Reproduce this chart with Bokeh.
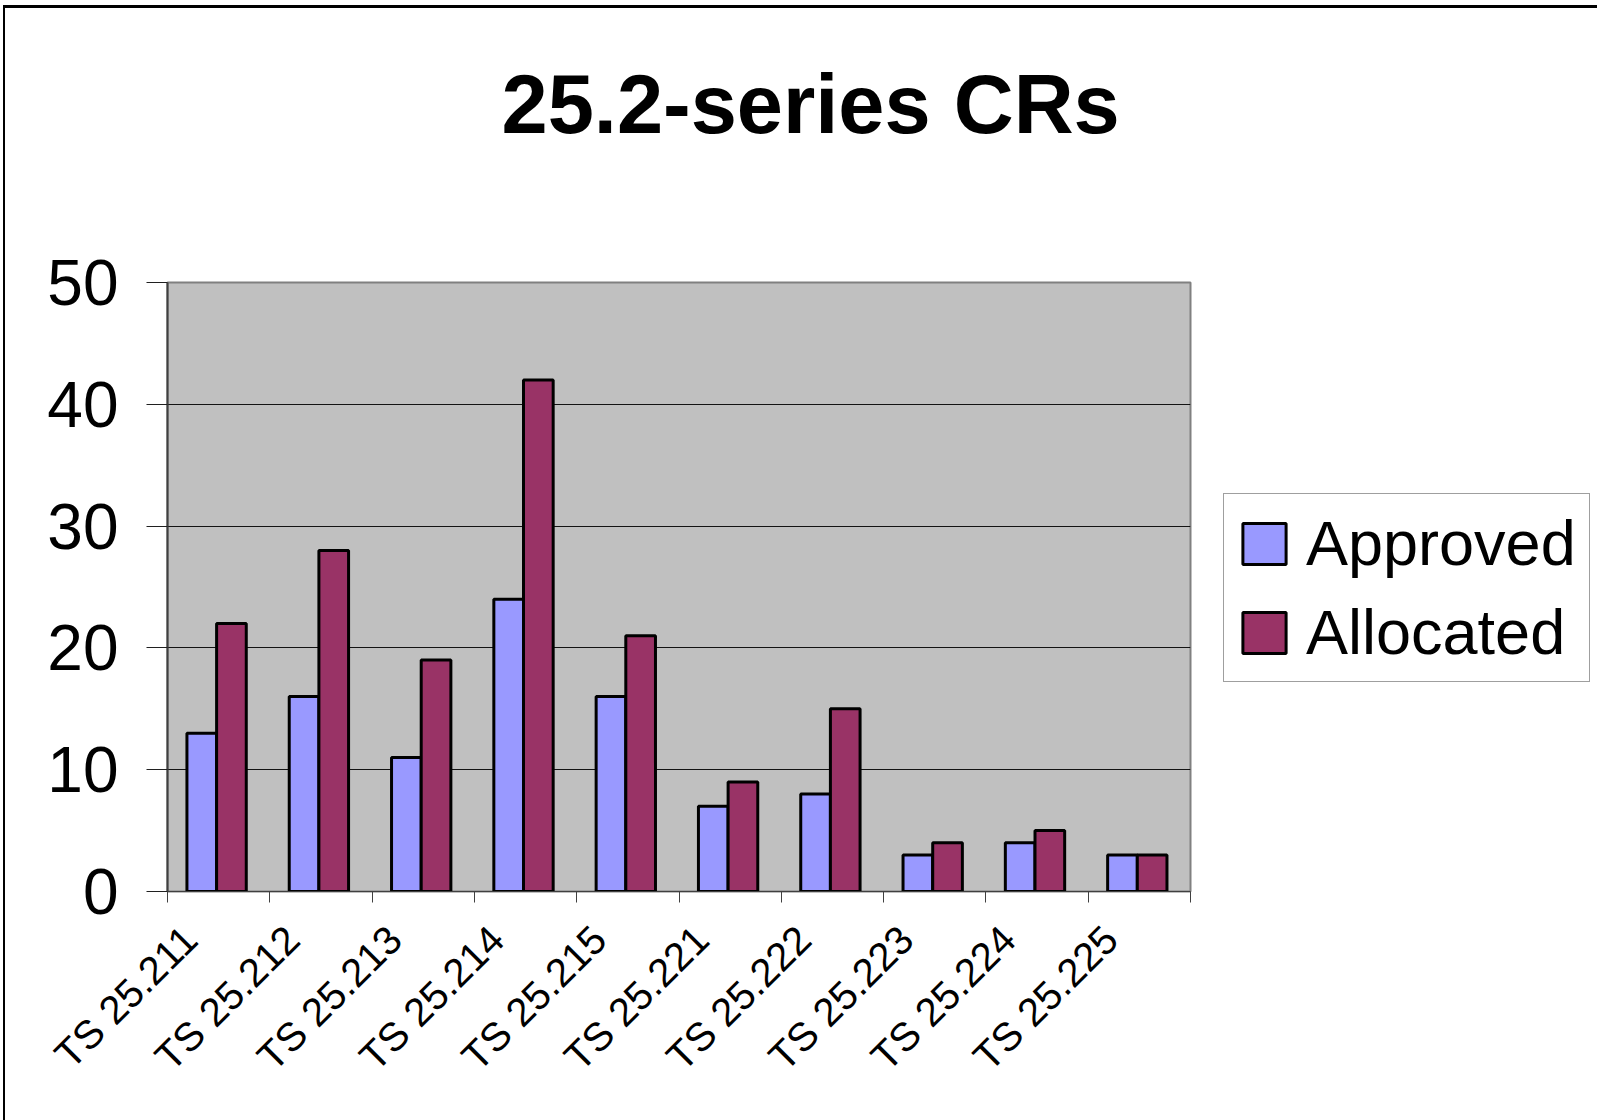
import math
from bokeh.plotting import figure
from bokeh.models import (ColumnDataSource, FixedTicker, Legend, LegendItem, Range1d)
from bokeh.embed import file_html
from bokeh.resources import INLINE

categories = ["TS 25.211", "TS 25.212", "TS 25.213", "TS 25.214", "TS 25.215",
              "TS 25.221", "TS 25.222", "TS 25.223", "TS 25.224", "TS 25.225"]
approved = [13, 16, 11, 24, 16, 7, 8, 3, 4, 3]
allocated = [22, 28, 19, 42, 21, 9, 15, 4, 5, 3]
y_ticks = [0, 10, 20, 30, 40, 50]
title_text = "25.2-series CRs"
series_names = ["Approved", "Allocated"]
colors = ["#9999FF", "#993366"]

FL, FT = 167, 282
FW, FH = 1023, 609
H = 1120

centers = [i + 0.5 for i in range(len(categories))]
bw = 0.29
src = ColumnDataSource(dict(
    xa=[c - bw / 2 - 0.02 for c in centers],
    xb=[c + bw / 2 - 0.02 for c in centers],
    approved=approved, allocated=allocated))

p = figure(frame_width=FW, frame_height=FH, output_backend="svg", toolbar_location=None,
           x_range=Range1d(0, len(categories)), y_range=Range1d(0, 50),
           min_border_left=FL, min_border_right=0,
           min_border_top=FT, min_border_bottom=H - FT - FH)
p.background_fill_color = "#C0C0C0"
p.border_fill_color = "white"
p.outline_line_color = "#808080"
p.outline_line_width = 2
p.stylesheets = [":host::after { content: ''; position: absolute; left: 3px; top: 5px; "
                 "width: 3000px; height: 3000px; border-left: 2px solid black; "
                 "border-top: 3px solid black; pointer-events: none; }"]

r1 = p.vbar(x="xa", top="approved", width=bw, source=src, fill_color=colors[0],
            line_color="black", line_width=3)
r2 = p.vbar(x="xb", top="allocated", width=bw, source=src, fill_color=colors[1],
            line_color="black", line_width=3)

# x axis: labels near category centres, ticks at category boundaries
lab_pos = [c - 0.28 for c in centers]
xa = p.xaxis[0]
xa.ticker = FixedTicker(ticks=lab_pos, minor_ticks=list(range(len(categories) + 1)))
xa.major_label_overrides = {c: n for c, n in zip(lab_pos, categories)}
xa.major_label_orientation = math.pi / 4
xa.major_tick_out = 0
xa.major_tick_in = 0
xa.minor_tick_out = 11
xa.minor_tick_in = 0
xa.minor_tick_line_color = "#404040"
xa.axis_line_color = "#404040"
xa.major_label_text_font = "Liberation Sans"
xa.major_label_text_font_size = "40px"
xa.major_label_text_color = "black"
xa.major_label_standoff = 30

ya = p.yaxis[0]
ya.ticker = FixedTicker(ticks=y_ticks)
ya.major_tick_out = 21
ya.major_tick_in = 0
ya.minor_tick_out = 0
ya.minor_tick_in = 0
ya.major_tick_line_color = "#202020"
ya.axis_line_color = "#404040"
ya.axis_line_width = 2
ya.major_label_text_font = "Liberation Sans"
ya.major_label_text_font_size = "64px"
ya.major_label_text_color = "black"
ya.major_label_standoff = 28

p.xgrid.grid_line_color = None
p.ygrid.grid_line_color = "black"
p.ygrid.grid_line_width = 1
p.ygrid.grid_line_alpha = 0.9

# title
p.title.text = title_text
p.title.text_font = "Liberation Sans"
p.title.text_font_style = "bold"
p.title.text_font_size = "83px"
p.title.text_color = "black"
p.title.align = "left"
p.title.offset = 334
p.title.vertical_align = "bottom"
p.title.standoff = 0
p.title.padding = dict(top=0, right=0, bottom=132, left=0)

legend = Legend(items=[LegendItem(label=series_names[0], renderers=[r1]),
                       LegendItem(label=series_names[1], renderers=[r2])],
                location=(33, 209), orientation="vertical")
legend.label_text_font = "Liberation Sans"
legend.label_text_font_size = "63px"
legend.label_text_color = "black"
legend.glyph_width = 54
legend.glyph_height = 51
legend.label_standoff = 15
legend.padding = 13
legend.spacing = 17
legend.margin = 0
legend.border_line_color = "#404040"
legend.border_line_width = 1
legend.background_fill_color = "white"
legend.background_fill_alpha = 1
p.add_layout(legend, "right")

open("out.html", "w").write(file_html(p, INLINE))
